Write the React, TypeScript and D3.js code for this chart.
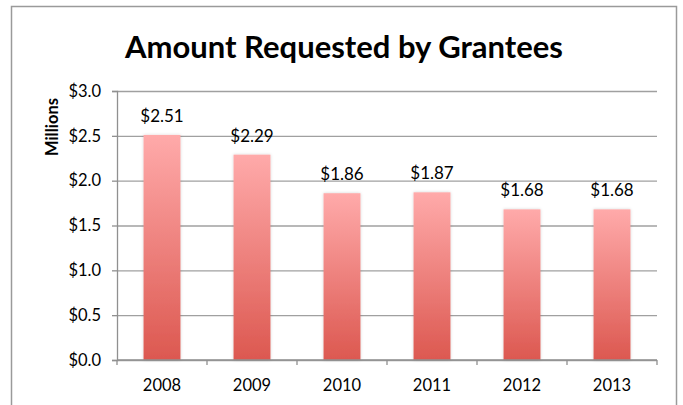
import { useEffect, useRef } from "react";
import * as d3 from "d3";

const years = ["2008", "2009", "2010", "2011", "2012", "2013"];
const amounts = [2.51, 2.29, 1.86, 1.87, 1.68, 1.68];
const yTicks = [0, 0.5, 1.0, 1.5, 2.0, 2.5, 3.0];

const W = 683;
const H = 405;

const App = () => {
  const ref = useRef<SVGSVGElement>(null);

  useEffect(() => {
    const svg = d3.select(ref.current);
    svg.selectAll("*").remove();

    const font = "Lato, 'Open Sans', sans-serif";
    const left = 117;
    const right = 657;
    const top = 91;
    const bottom = 360;

    // gradient for the bars
    const defs = svg.append("defs");
    const grad = defs
      .append("linearGradient")
      .attr("id", "barGrad")
      .attr("x1", 0)
      .attr("y1", 0)
      .attr("x2", 0)
      .attr("y2", 1);
    grad.append("stop").attr("offset", "0%").attr("stop-color", "#FFAAAA");
    grad.append("stop").attr("offset", "100%").attr("stop-color", "#DC5850");

    const shadow = defs
      .append("filter")
      .attr("id", "shadow")
      .attr("x", "-20%")
      .attr("y", "-5%")
      .attr("width", "140%")
      .attr("height", "110%");
    shadow
      .append("feDropShadow")
      .attr("dx", 0)
      .attr("dy", 0)
      .attr("stdDeviation", 1.5)
      .attr("flood-color", "#000")
      .attr("flood-opacity", 0.18);

    // outer frame
    svg
      .append("rect")
      .attr("x", 11.5)
      .attr("y", 6.5)
      .attr("width", 665)
      .attr("height", 420)
      .attr("fill", "#fff")
      .attr("stroke", "#9a9a9a")
      .attr("stroke-width", 1.5);

    const x = d3.scaleBand().domain(years).range([left, right]).paddingInner(0.59).paddingOuter(0.295);
    const xOuter = d3.scaleBand().domain(years).range([left, right]);
    const y = d3.scaleLinear().domain([0, 3]).range([bottom, top]);

    // gridlines
    svg
      .append("g")
      .attr("transform", `translate(${left},0)`)
      .call(
        d3
          .axisLeft(y)
          .tickValues(yTicks)
          .tickSize(-(right - left))
          .tickFormat(() => "")
      )
      .call((g) => g.select(".domain").remove())
      .call((g) => g.selectAll(".tick line").attr("stroke", "#a0a0a0").attr("stroke-width", 1.3));

    // y axis with ticks + labels
    svg
      .append("g")
      .attr("transform", `translate(${left},0)`)
      .call(
        d3
          .axisLeft(y)
          .tickValues(yTicks)
          .tickSize(5)
          .tickPadding(11)
          .tickFormat((d) => "$" + d3.format(".1f")(d as number))
      )
      .call((g) => g.select(".domain").attr("stroke", "#909090").attr("stroke-width", 1.3))
      .call((g) => g.selectAll(".tick line").attr("stroke", "#909090").attr("stroke-width", 1.3))
      .call((g) =>
        g
          .selectAll("text")
          .attr("font-family", font)
          .attr("font-size", 16.5)
          .attr("fill", "#000")
      );

    // bars
    svg
      .append("g")
      .selectAll("rect")
      .data(amounts)
      .enter()
      .append("rect")
      .attr("x", (_, i) => x(years[i])!)
      .attr("y", (d) => y(d))
      .attr("width", x.bandwidth())
      .attr("height", (d) => bottom - y(d))
      .attr("fill", "url(#barGrad)")
      .attr("filter", "url(#shadow)");

    // value labels
    svg
      .append("g")
      .selectAll("text")
      .data(amounts)
      .enter()
      .append("text")
      .attr("x", (_, i) => x(years[i])! + x.bandwidth() / 2)
      .attr("y", (d) => y(d) - 13)
      .attr("text-anchor", "middle")
      .attr("font-family", font)
      .attr("font-size", 17)
      .text((d) => "$" + d.toFixed(2));

    // x axis
    const xAxisG = svg.append("g").attr("transform", `translate(0,${bottom})`);
    xAxisG
      .append("line")
      .attr("x1", left)
      .attr("x2", right)
      .attr("stroke", "#909090")
      .attr("stroke-width", 1.3);
    const bounds = [left, ...years.map((yr) => xOuter(yr)! + xOuter.bandwidth())];
    xAxisG
      .selectAll("line.tk")
      .data(bounds)
      .enter()
      .append("line")
      .attr("class", "tk")
      .attr("x1", (d) => d)
      .attr("x2", (d) => d)
      .attr("y1", 0)
      .attr("y2", 5)
      .attr("stroke", "#909090")
      .attr("stroke-width", 1.3);
    xAxisG
      .selectAll("text")
      .data(years)
      .enter()
      .append("text")
      .attr("x", (d) => xOuter(d)! + xOuter.bandwidth() / 2)
      .attr("y", 31)
      .attr("text-anchor", "middle")
      .attr("font-family", font)
      .attr("font-size", 16.5)
      .text((d) => d);

    // axis title
    svg
      .append("text")
      .attr("transform", `translate(58,127) rotate(-90)`)
      .attr("text-anchor", "middle")
      .attr("font-family", font)
      .attr("font-weight", "bold")
      .attr("font-size", 16.5)
      .text("Millions");

    // chart title
    svg
      .append("text")
      .attr("x", 344)
      .attr("y", 58)
      .attr("text-anchor", "middle")
      .attr("font-family", font)
      .attr("font-weight", "bold")
      .attr("font-size", 31)
      .text("Amount Requested by Grantees");
  }, []);

  return (
    <svg
      ref={ref}
      width={W}
      height={H}
      style={{ position: "absolute", left: 0, top: 0, background: "#fff" }}
    />
  );
};

export default App;
